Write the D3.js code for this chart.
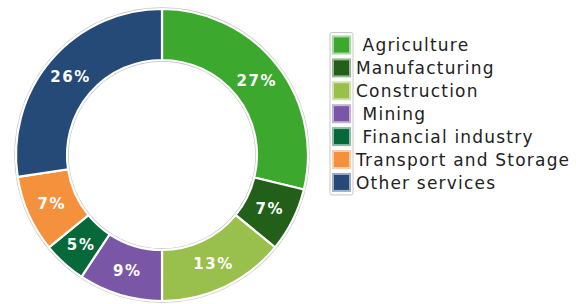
<!DOCTYPE html>
<html lang="en">
<head>
<meta charset="UTF-8">
<title>Sector donut</title>
<script src="https://d3js.org/d3.v7.min.js"></script>
<style>
    body { margin: 0; background: #fff; }
    svg { display: block; }
</style>
</head>
<body>
<div id="chart"></div>
<script>
// sectors, clockwise from 12 o'clock
var sectors = ["Agriculture", "Manufacturing", "Construction", "Mining",
    "Financial industry", "Transport and Storage", "Other services"];
// angular share of each slice
var shares = [28.8, 7.1, 14.1, 9.3, 4.8, 8.5, 27.4];
// percent labels as printed on the slices
var pctLabels = ["27%", "7%", "13%", "9%", "5%", "7%", "26%"];
var colors = ["#3da82e", "#22601a", "#99bf4c", "#7a56a6", "#07693a", "#f5913d", "#254a78"];
// legend text (some entries carry a leading space in the original)
var legendText = [" Agriculture", "Manufacturing", "Construction", " Mining",
    " Financial industry", "Transport and Storage", "Other services"];

var width = 576, height = 304;
var cx = 162, cy = 155, outerR = 146, innerR = 95;

var svg = d3.select("#chart").append("svg")
    .attr("width", width)
    .attr("height", height);

var g = svg.append("g").attr("transform", `translate(${cx},${cy})`);

var pie = d3.pie().sort(null).value(function (d) { return d; });
var arcs = pie(shares);

var arc = d3.arc().innerRadius(innerR).outerRadius(outerR);
var labelArc = d3.arc().innerRadius((innerR + outerR) / 2).outerRadius((innerR + outerR) / 2);

// thin grey rim around the ring
g.append("circle").attr("r", outerR + 1).attr("fill", "none")
    .attr("stroke", "#c4c4c4").attr("stroke-width", 1.5);
g.append("circle").attr("r", innerR - 1).attr("fill", "none")
    .attr("stroke", "#c4c4c4").attr("stroke-width", 1.5);

g.selectAll("path.slice")
    .data(arcs)
    .enter().append("path")
    .attr("class", "slice")
    .attr("d", arc)
    .attr("fill", function (d, i) { return colors[i]; })
    .attr("stroke", "#fff")
    .attr("stroke-width", 2.2);

g.selectAll("text.pct")
    .data(arcs)
    .enter().append("text")
    .attr("class", "pct")
    .attr("transform", function (d) { return `translate(${labelArc.centroid(d)})`; })
    .attr("text-anchor", "middle")
    .attr("dy", "0.36em")
    .attr("fill", "#fff")
    .style("font-family", "'DejaVu Sans', sans-serif")
    .style("font-weight", "bold")
    .style("font-size", "15px")
    .style("letter-spacing", "1.6px")
    .text(function (d, i) { return pctLabels[i]; });

// legend
var lx = 333, ly = 45, step = 22.9, sw = 17;

svg.append("rect")
    .attr("x", lx - 3).attr("y", ly - sw / 2 - 4)
    .attr("width", sw + 6).attr("height", step * 6 + sw + 8)
    .attr("rx", 2)
    .attr("fill", "#fff")
    .attr("stroke", "#c8c8c8").attr("stroke-width", 1);

var items = svg.selectAll("g.legend")
    .data(sectors)
    .enter().append("g")
    .attr("class", "legend")
    .attr("transform", function (d, i) { return `translate(${lx},${ly + i * step})`; });

items.append("rect")
    .attr("x", 0).attr("y", -sw / 2)
    .attr("width", sw).attr("height", sw)
    .attr("fill", function (d, i) { return colors[i]; })
    .attr("stroke", function (d, i) { return d3.interpolateRgb(colors[i], "#fff")(0.55); })
    .attr("stroke-width", 2);

items.append("text")
    .attr("x", sw + 6)
    .attr("dy", "0.36em")
    .attr("fill", "#222")
    .style("font-family", "'DejaVu Sans', sans-serif")
    .style("font-size", "17px")
    .style("letter-spacing", "1.2px")
    .style("white-space", "pre")
    .attr("xml:space", "preserve")
    .text(function (d, i) { return legendText[i]; });
</script>
</body>
</html>
